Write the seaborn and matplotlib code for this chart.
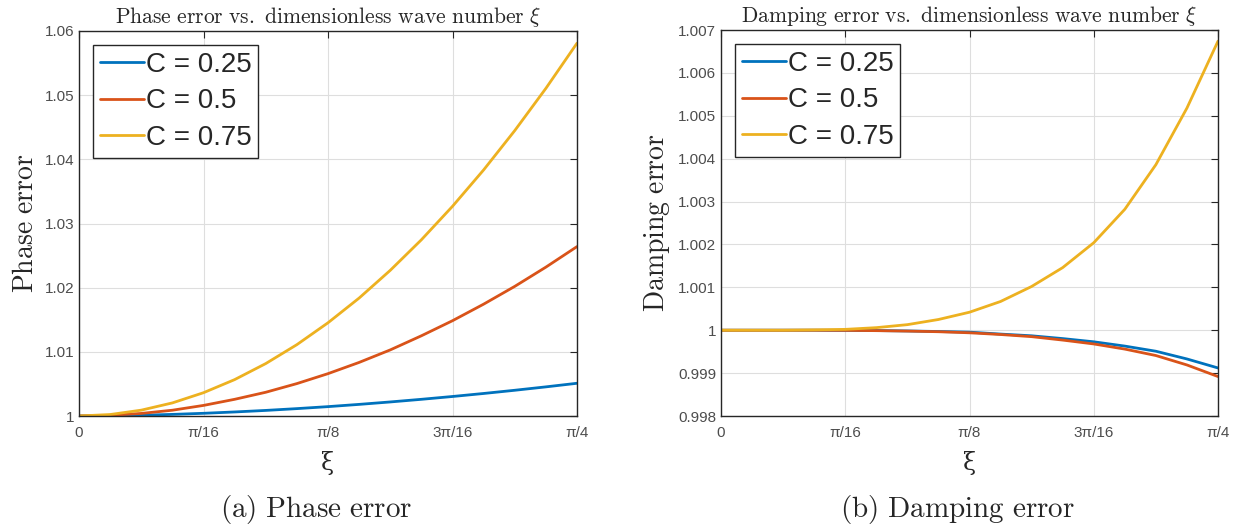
import numpy as np
import pandas as pd
import matplotlib
matplotlib.use("Agg")
import matplotlib.pyplot as plt
import seaborn as sns

# Sample positions along xi, in units of pi/64 (0 .. 16 -> 0 .. pi/4)
xi_steps = list(range(17))
courant = ["C = 0.25", "C = 0.5", "C = 0.75"]

phase_c025 = [1.0, 1.000035, 1.00012, 1.00025, 1.00042, 1.00063, 1.00087, 1.00115,
              1.00146, 1.00181, 1.00219, 1.0026, 1.00304, 1.00351, 1.00401, 1.00454,
              1.0051]
phase_c050 = [1.0, 1.0001, 1.0004, 1.0009, 1.00165, 1.0026, 1.0037, 1.00505, 1.0066,
              1.00835, 1.0103, 1.0125, 1.01485, 1.01743, 1.0202, 1.0232, 1.0264]
phase_c075 = [1.0, 1.00023, 1.00091, 1.00204, 1.00363, 1.00567, 1.00817, 1.01112,
              1.01453, 1.01838, 1.0227, 1.02746, 1.03268, 1.03835, 1.04448, 1.05106,
              1.0581]

damp_c025 = [1.0, 1.0, 1.0, 1.0, 0.999997, 0.999992, 0.999983, 0.99997, 0.999955,
             0.99991, 0.99987, 0.999805, 0.99973, 0.99963, 0.99951, 0.99933, 0.99912]
damp_c050 = [1.0, 1.0, 1.0, 1.0, 0.999997, 0.99999, 0.99998, 0.999965, 0.99994,
             0.9999, 0.99985, 0.99977, 0.99968, 0.99956, 0.99941, 0.99919, 0.99892]
damp_c075 = [1.0, 1.0, 1.0, 1.000008, 1.00002, 1.00006, 1.00013, 1.00025, 1.00042,
             1.00067, 1.00102, 1.00146, 1.00204, 1.00282, 1.00386, 1.00518, 1.00674]

xtick_labels = ["0", "π/16", "π/8", "3π/16", "π/4"]
phase_yticks = [1.0, 1.01, 1.02, 1.03, 1.04, 1.05, 1.06]
phase_ylabels = ["1", "1.01", "1.02", "1.03", "1.04", "1.05", "1.06"]
damp_yticks = [0.998, 0.999, 1.0, 1.001, 1.002, 1.003, 1.004, 1.005, 1.006, 1.007]
damp_ylabels = ["0.998", "0.999", "1", "1.001", "1.002", "1.003", "1.004",
                "1.005", "1.006", "1.007"]

palette = ["#0072BD", "#D95319", "#EDB120"]

sns.set_style("white")
plt.rcParams["font.family"] = ["Liberation Sans", "DejaVu Sans"]
plt.rcParams["mathtext.fontset"] = "cm"

xi = np.array(xi_steps) * np.pi / 64


def long_frame(series):
    rows = []
    for name, vals in zip(courant, series):
        for x, v in zip(xi, vals):
            rows.append({"xi": x, "value": v, "C": name})
    return pd.DataFrame(rows)


phase_df = long_frame([phase_c025, phase_c050, phase_c075])
damp_df = long_frame([damp_c025, damp_c050, damp_c075])

fig = plt.figure(figsize=(12.42, 5.31), dpi=100)
W, H = 1242, 531
ax1 = fig.add_axes([79 / W, 1 - 416 / H, (577 - 79) / W, (416 - 31) / H])
ax2 = fig.add_axes([721 / W, 1 - 416 / H, (1218 - 721) / W, (416 - 30) / H])


def style_axes(ax, df, yticks, ylabels, ylim, title, ylabel):
    sns.lineplot(data=df, x="xi", y="value", hue="C", palette=palette,
                 linewidth=2.0, ax=ax, legend=True)
    ax.set_xlim(0, np.pi / 4)
    ax.set_ylim(*ylim)
    ax.set_xticks(np.arange(5) * np.pi / 16)
    ax.set_xticklabels(xtick_labels)
    ax.set_yticks(yticks)
    ax.set_yticklabels(ylabels)
    ax.grid(True, color="#dedede", linewidth=0.8)
    ax.set_axisbelow(True)
    ax.tick_params(direction="in", length=5, width=0.8, top=True, right=True,
                   colors="#262626", labelsize=11, labelcolor="#4d4d4d")
    ax.tick_params(axis="x", pad=7)
    for s in ax.spines.values():
        s.set_color("#262626")
        s.set_linewidth(1.0)
    ax.set_title(title, fontsize=15.5, pad=6)
    ax.set_ylabel(ylabel, fontsize=20, labelpad=4)
    ax.set_xlabel("ξ", fontsize=17, family="DejaVu Serif", labelpad=8)
    handles, labels = ax.get_legend_handles_labels()
    leg = ax.legend(handles, labels, loc="upper left", fontsize=20,
                    frameon=True, fancybox=False, framealpha=1,
                    edgecolor="#262626", handlelength=1.6, handletextpad=0.05,
                    borderpad=0.25, labelspacing=0.38, borderaxespad=0.5)
    leg.get_frame().set_linewidth(1.0)


style_axes(ax1, phase_df, phase_yticks, phase_ylabels, (1.0, 1.06),
           r"$\mathrm{Phase\ error\ vs.\ dimensionless\ wave\ number}\ \xi$",
           r"$\mathrm{Phase\ error}$")
style_axes(ax2, damp_df, damp_yticks, damp_ylabels, (0.998, 1.007),
           r"$\mathrm{Damping\ error\ vs.\ dimensionless\ wave\ number}\ \xi$",
           r"$\mathrm{Damping\ error}$")

# Sub-figure captions
fig.text(316 / W, 1 - 510 / H, r"$\mathrm{(a)\ Phase\ error}$",
         ha="center", va="center", fontsize=21)
fig.text(957 / W, 1 - 510 / H, r"$\mathrm{(b)\ Damping\ error}$",
         ha="center", va="center", fontsize=21)

fig.savefig("out.png", dpi=100, facecolor="white")
